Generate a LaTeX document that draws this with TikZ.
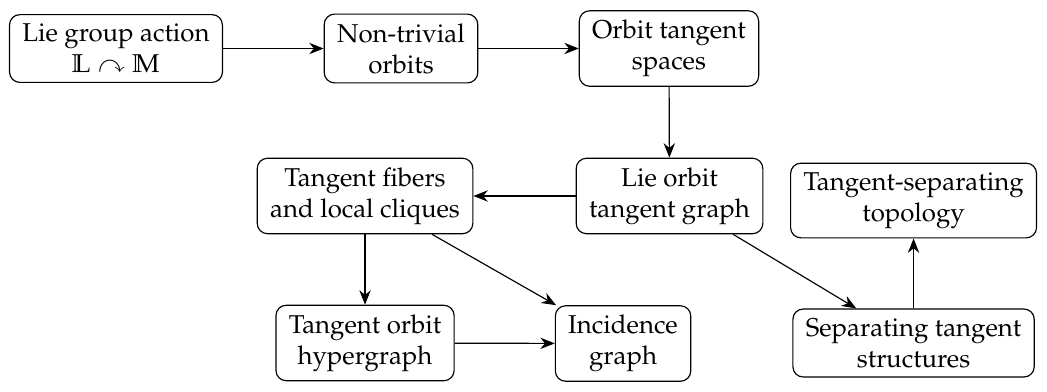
\documentclass[tikz,border=0pt]{standalone}
\usepackage[T1]{fontenc}
\usepackage{mathpazo}
\usepackage{amssymb}
\usepackage{tikz}
\usetikzlibrary{arrows.meta}

\begin{document}
\begin{tikzpicture}[line width=0.45pt,>={Stealth[length=5.6pt,width=4.4pt]},
  box/.style={draw,rounded corners=4pt,align=center,inner xsep=5pt,inner ysep=3.6pt}]
  \useasboundingbox (0,0) rectangle (14.264,5.327);

  \node[box] (act) at (1.580,4.666) {Lie group action\\ \(\mathbb{L}\curvearrowright\mathbb{M}\)};
  \node[box] (orb) at (5.463,4.666) {Non-trivial\\ orbits};
  \node[box] (tsp) at (9.114,4.666) {Orbit tangent\\ spaces};

  \node[box] (ltg) at (9.121,2.657) {Lie orbit\\ tangent graph};
  \node[box] (fib) at (4.973,2.657) {Tangent fibers\\ and local cliques};
  \node[box] (top) at (12.446,2.595) {Tangent-separating\\ topology};

  \node[box] (hyp) at (4.973,0.654) {Tangent orbit\\ hypergraph};
  \node[box] (inc) at (8.488,0.647) {Incidence\\ graph};
  \node[box] (sep) at (12.446,0.654) {Separating tangent\\ structures};

  \draw[->] (act) -- (orb);
  \draw[->] (orb) -- (tsp);
  \draw[->] (tsp) -- (ltg);
  \draw[->] (ltg) -- (fib);
  \draw[->] (fib) -- (hyp);
  \draw[->] (fib) -- (inc);
  \draw[->] (hyp) -- (inc);
  \draw[->] (ltg) -- (sep);
  \draw[->] (sep) -- (top);
\end{tikzpicture}
\end{document}
